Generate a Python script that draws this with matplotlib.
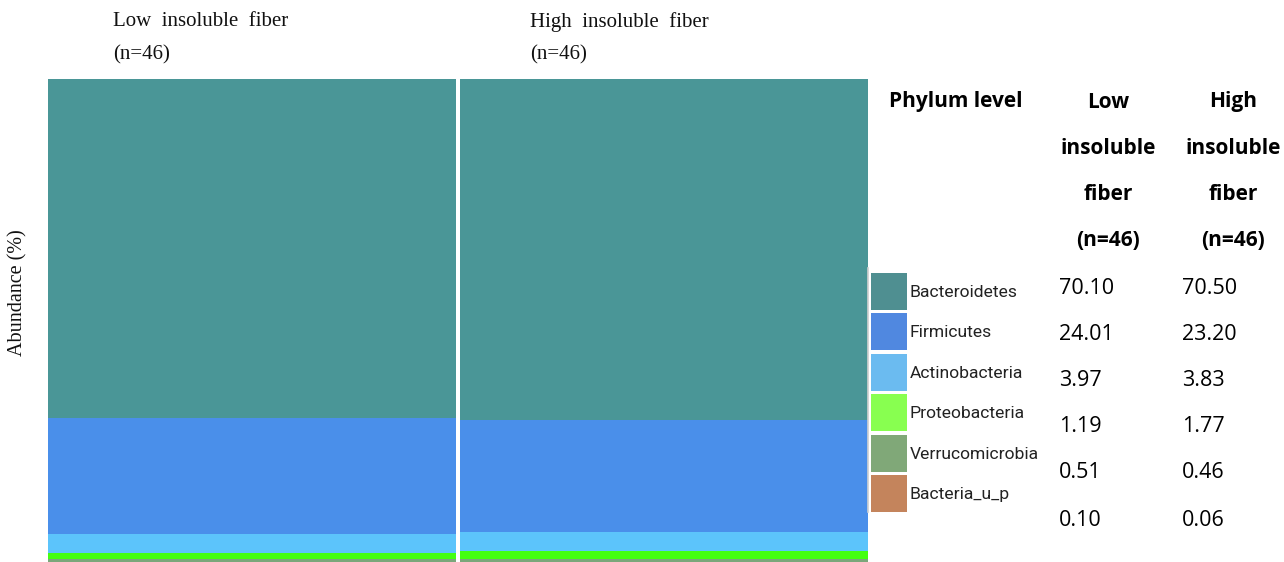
import matplotlib.pyplot as plt
from matplotlib.patches import Patch
from matplotlib.lines import Line2D

phyla = ['Bacteroidetes', 'Firmicutes', 'Actinobacteria', 'Proteobacteria',
         'Verrucomicrobia', 'Bacteria_u_p']
low_fiber = [70.10, 24.01, 3.97, 1.19, 0.51, 0.10]
high_fiber = [70.50, 23.20, 3.83, 1.77, 0.46, 0.06]
groups = ['Low  insoluble  fiber\n(n=46)', 'High  insoluble  fiber\n(n=46)']
table_header = ['Low\ninsoluble\nfiber\n(n=46)', 'High\ninsoluble\nfiber\n(n=46)']

bar_colors = ['#4a9697', '#4a8fea', '#5cc4fb', '#44ff10', '#7aa77a', '#c4845c']
legend_colors = ['#4f8f91', '#5088e0', '#6bbbf0', '#88ff50', '#80a878', '#c4845c']

W, H = 1284, 562
fig = plt.figure(figsize=(W / 100, H / 100), dpi=100)

ax = fig.add_axes([48 / W, 0, 820 / W, (H - 79) / H])
bw = 0.988
# stack from the bottom: smallest groups first
for j, vals in enumerate([low_fiber, high_fiber]):
    bottom = 0
    for i in reversed(range(len(phyla))):
        ax.bar(j, vals[i], bottom=bottom, width=bw, color=bar_colors[i],
               edgecolor='none', align='center')
        bottom += vals[i]
ax.set_xlim(-bw / 2, 1 + bw / 2)
ax.set_ylim(0, max(sum(low_fiber), sum(high_fiber)))
ax.axis('off')

# group titles above the bars
for j, g in enumerate(groups):
    xs = [113, 530][j]
    fig.text(xs / W, 1 - 22 / H, g.split('\n')[0], family='Liberation Serif',
             fontsize=15, va='center', ha='left', color='#111111')
    fig.text(xs / W, 1 - 55 / H, g.split('\n')[1], family='Liberation Serif',
             fontsize=15, va='center', ha='left', color='#111111')

fig.text(18 / W, 1 - 293 / H, 'Abundance (%)', family='Liberation Serif',
         fontsize=14.5, rotation=90, va='center', ha='center', color='#111111')

# legend
handles = [Patch(facecolor=c, edgecolor='none') for c in legend_colors]
leg = fig.legend(handles, phyla, loc='upper left',
                 bbox_to_anchor=(871 / W, 1 - 273 / H), frameon=False,
                 borderpad=0, borderaxespad=0, handlelength=2.06,
                 handleheight=2.86, labelspacing=0.21, handletextpad=0.15,
                 prop={'family': 'Roboto', 'size': 12.6})
for t in leg.get_texts():
    t.set_color('#222222')
fig.add_artist(Line2D([868 / W, 868 / W], [1 - 268 / H, 1 - 512 / H],
                      color='#d0d0d0', lw=1.2))

# table on the right
tf = 'Open Sans'
fig.text(889 / W, 1 - 102 / H, 'Phylum level', family=tf, fontsize=15,
         weight='bold', ha='left', va='center')
row_y = [102, 148, 194, 241]
for cx, head in zip([1108, 1233], table_header):
    for ry, line in zip(row_y, head.split('\n')):
        fig.text(cx / W, 1 - ry / H, line, family=tf, fontsize=15,
                 weight='bold', ha='center', va='center')
val_y = [288, 334, 381, 427, 473, 520]
for vx, vals in zip([1059, 1182], [low_fiber, high_fiber]):
    for vy, v in zip(val_y, vals):
        fig.text(vx / W, 1 - vy / H, f'{v:.2f}', family=tf, fontsize=15.5,
                 ha='left', va='center')

fig.savefig('out.png', dpi=100)
